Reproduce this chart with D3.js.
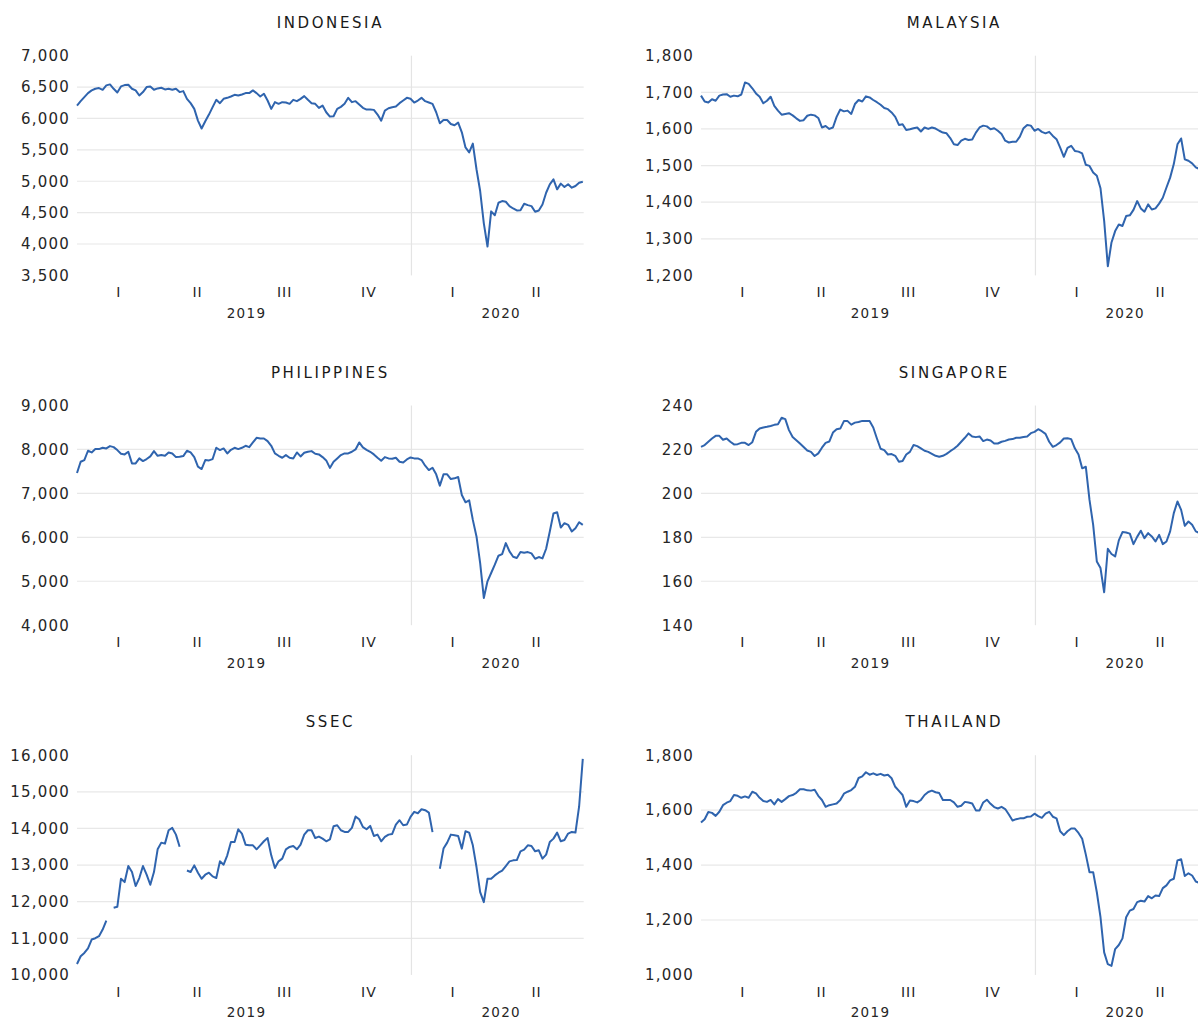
<!DOCTYPE html>
<html>
<head>
<meta charset="utf-8">
<script src="https://cdn.jsdelivr.net/npm/d3@7"></script>
<style>
  html, body { margin: 0; padding: 0; background: #fff; }
  svg { display: block; }
</style>
</head>
<body>
<svg id="chart" width="1198" height="1021"></svg>
<script>
// Daily index levels, sampled every 4 calendar days from 1 Jan 2019 to 7 Jul 2020.
const startDate = "2019-01-01";
const endDate = "2020-07-07";
const stepDays = 4;

const indonesia = [
  6206,6276,6340,6404,6447,6473,6484,6457,6527,6543,
  6473,6415,6511,6532,6537,6473,6447,6366,6420,6500,
  6511,6457,6479,6489,6463,6473,6457,6473,6420,6436,
  6313,6244,6153,5966,5840,5955,6062,6180,6297,6244,
  6313,6329,6350,6377,6366,6382,6404,6404,6447,6404,
  6350,6393,6286,6153,6260,6233,6260,6254,6233,6297,
  6276,6313,6356,6297,6244,6233,6169,6206,6099,6030,
  6035,6153,6185,6233,6329,6260,6276,6222,6169,6142,
  6142,6137,6062,5966,6126,6163,6180,6190,6244,6286,
  6329,6313,6254,6286,6329,6276,6254,6233,6099,5923,
  5976,5976,5912,5891,5934,5779,5538,5460,5600,5191,
  4844,4330,3960,4520,4459,4657,4684,4673,4604,4566,
  4534,4539,4641,4620,4604,4513,4534,4630,4817,4951,
  5031,4871,4962,4908,4951,4897,4924,4977,4993
];

const malaysia = [
  1691,1675,1672,1681,1677,1691,1694,1695,1688,1691,
  1689,1694,1727,1723,1711,1697,1688,1670,1677,1688,
  1663,1650,1639,1641,1643,1637,1629,1622,1624,1636,
  1639,1637,1630,1604,1608,1600,1604,1633,1653,1648,
  1650,1641,1668,1679,1675,1689,1686,1679,1673,1666,
  1657,1654,1645,1633,1611,1613,1597,1599,1602,1604,
  1593,1604,1600,1604,1601,1595,1590,1588,1575,1558,
  1556,1568,1573,1570,1571,1590,1604,1609,1607,1599,
  1602,1595,1586,1568,1563,1565,1565,1579,1602,1611,
  1609,1595,1600,1592,1588,1592,1581,1572,1549,1524,
  1548,1554,1540,1538,1533,1502,1499,1481,1472,1438,
  1349,1225,1290,1321,1339,1335,1362,1364,1379,1403,
  1383,1374,1394,1380,1383,1396,1412,1440,1467,1504,
  1558,1574,1517,1513,1506,1495,1490,1488,1485
];

const philippines = [
  7463,7720,7758,7970,7932,8008,8008,8038,8023,8076,
  8053,7985,7902,7887,7947,7682,7682,7796,7735,7781,
  7841,7962,7856,7871,7856,7932,7909,7826,7834,7849,
  7970,7932,7826,7607,7554,7758,7750,7781,8038,7985,
  8023,7909,7992,8038,8008,8038,8083,8053,8159,8265,
  8250,8250,8189,8083,7909,7856,7811,7871,7811,7796,
  7932,7841,7924,7947,7962,7902,7887,7826,7750,7580,
  7720,7796,7871,7909,7909,7947,8000,8159,8045,7992,
  7947,7887,7811,7743,7826,7796,7788,7811,7720,7705,
  7773,7818,7796,7796,7758,7630,7531,7584,7433,7176,
  7433,7433,7327,7342,7372,6964,6798,6843,6397,6019,
  5415,4620,4999,5188,5377,5581,5619,5868,5679,5558,
  5528,5664,5649,5664,5634,5513,5551,5520,5740,6133,
  6541,6571,6223,6322,6284,6133,6208,6344,6284
];

const singapore = [
  221.2,222.0,223.5,225.0,226.2,226.2,224.4,225.0,223.5,222.3,
  222.4,223.0,223.0,222.0,223.3,228.0,229.5,230.0,230.3,230.7,
  231.2,231.5,234.4,233.8,228.8,225.7,224.2,222.7,221.1,219.5,
  218.9,217.0,218.2,220.8,223.0,223.6,227.7,229.2,229.5,232.9,
  232.9,231.3,232.2,232.5,233.0,233.0,232.9,230.0,225.0,220.3,
  219.7,217.7,217.9,217.1,214.4,214.7,217.7,218.9,222.0,221.5,
  220.5,219.4,218.9,218.0,217.1,216.7,217.1,218.0,219.2,220.3,
  221.7,223.5,225.3,227.3,225.9,225.6,225.9,223.8,224.5,224.1,
  222.7,222.7,223.5,223.9,224.5,224.7,225.3,225.3,225.7,225.9,
  227.4,228.0,229.2,228.3,227.1,223.5,221.2,222.0,223.2,225.0,
  225.1,224.7,220.5,217.7,211.4,212.1,197.0,185.7,169.0,166.0,
  155.0,174.8,172.4,171.3,178.6,182.4,182.2,181.7,176.9,180.2,
  183.0,179.6,181.9,180.4,178.1,181.1,176.9,178.1,182.7,191.0,
  196.3,192.5,185.2,187.2,185.7,182.7,182.0,182.0,182.0
];

// null marks days with no trading (holiday closures)
const ssec = [
  10298,10508,10599,10727,10965,11001,11056,11238,11485,null,
  11832,11859,12626,12535,12973,12809,12425,12645,12973,12736,
  12462,12809,13430,13612,13585,13950,14014,13831,13500,null,
  12850,12809,12991,12791,12626,12736,12791,12690,12645,13101,
  13010,13265,13630,13630,13977,13859,13557,13539,13539,13430,
  13539,13649,13740,13265,12918,13101,13174,13430,13494,13521,
  13430,13557,13831,13950,13950,13740,13777,13722,13649,13700,
  14060,14087,13950,13904,13904,14014,14324,14251,14041,13977,
  14069,13795,13831,13649,13767,13831,13850,14105,14224,14087,
  14105,14315,14452,14416,14525,14498,14434,13900,null,12900,
  13450,13612,13831,13813,13795,13448,13923,13886,13539,12946,
  12261,11987,12626,12626,12717,12791,12845,12973,13101,13128,
  13137,13375,13420,13539,13521,13375,13403,13174,13284,13630,
  13722,13886,13649,13685,13859,13904,13886,14600,15900
];

const thailand = [
  1555,1567,1593,1590,1579,1594,1618,1627,1633,1655,
  1652,1645,1650,1645,1667,1661,1645,1633,1630,1637,
  1621,1640,1630,1640,1651,1655,1663,1676,1676,1672,
  1671,1674,1652,1637,1612,1618,1621,1624,1637,1660,
  1667,1673,1685,1717,1723,1738,1729,1734,1728,1732,
  1726,1729,1716,1685,1670,1655,1612,1635,1633,1628,
  1637,1655,1666,1671,1665,1662,1637,1637,1637,1628,
  1612,1616,1630,1628,1624,1599,1599,1628,1638,1623,
  1611,1606,1612,1604,1584,1562,1567,1570,1570,1576,
  1577,1587,1578,1572,1587,1594,1576,1570,1523,1509,
  1523,1533,1533,1517,1496,1438,1374,1374,1301,1210,
  1082,1039,1033,1094,1109,1133,1210,1234,1240,1265,
  1270,1267,1287,1279,1289,1287,1316,1326,1344,1350,
  1417,1421,1360,1370,1362,1340,1335,1330,1325
];

const panelTitles = ["INDONESIA", "MALAYSIA", "PHILIPPINES", "SINGAPORE", "SSEC", "THAILAND"];
const panelSeries = [indonesia, malaysia, philippines, singapore, ssec, thailand];
const panelDomains = [[3500, 7000], [1200, 1800], [4000, 9000], [140, 240], [10000, 16000], [1000, 1800]];
const panelTickSteps = [500, 100, 1000, 20, 1000, 200];

// quarter captions and the dates they sit under
const quarterLabels = ["I", "II", "III", "IV", "I", "II"];
const quarterLabelDates = ["2019-02-15", "2019-05-12", "2019-08-15", "2019-11-15", "2020-02-15", "2020-05-16"];
const yearLabels = ["2019", "2020"];
const yearLabelDates = ["2019-07-05", "2020-04-08"];
const yearBreak = "2020-01-01";

// ---- layout ----
const parse = d3.utcParse("%Y-%m-%d");
const dates = panelSeries[0].map((_, i) => d3.utcDay.offset(parse(startDate), i * stepDays));

const colLeft = [77, 701];
const rowTop = [55.7, 405.5, 755.2];
const plotW = 506.7;
const plotH = 219.7;

const FONT = "'DejaVu Sans', Verdana, sans-serif";
const lineColor = "#2f64ae";
const textColor = "#262626";

const svg = d3.select("#chart");

const x = d3.scaleUtc()
  .domain([parse(startDate), parse(endDate)])
  .range([0, plotW]);

const fmt = d3.format(",");

panelTitles.forEach((title, p) => {
  const col = p % 2, row = Math.floor(p / 2);
  const g = svg.append("g")
    .attr("transform", `translate(${colLeft[col]},${rowTop[row]})`);

  const [lo, hi] = panelDomains[p];
  const y = d3.scaleLinear().domain([lo, hi]).range([plotH, 0]);
  const ticks = d3.range(lo, hi + panelTickSteps[p] / 2, panelTickSteps[p]);

  // horizontal gridlines (inner values only)
  g.append("g")
    .selectAll("line")
    .data(ticks.filter(t => t > lo && t < hi))
    .join("line")
    .attr("x1", 0).attr("x2", plotW)
    .attr("y1", d => y(d)).attr("y2", d => y(d))
    .attr("stroke", "#e8e8e8")
    .attr("stroke-width", 1.2);

  // year separator
  g.append("line")
    .attr("x1", x(parse(yearBreak))).attr("x2", x(parse(yearBreak)))
    .attr("y1", 0).attr("y2", plotH)
    .attr("stroke", "#e4e4e4")
    .attr("stroke-width", 1.2);

  // y axis labels
  const yAxis = g.append("g")
    .call(d3.axisLeft(y).tickValues(ticks).tickSize(0).tickPadding(7).tickFormat(fmt));
  yAxis.select(".domain").remove();
  yAxis.selectAll("text")
    .attr("font-family", FONT)
    .attr("font-size", 15)
    .attr("letter-spacing", 1.2)
    .attr("fill", textColor);

  // quarter labels
  const xAxis = g.append("g")
    .attr("transform", `translate(0,${plotH})`)
    .call(d3.axisBottom(x).tickValues(quarterLabelDates.map(parse)).tickSize(0).tickPadding(12)
      .tickFormat((d, i) => quarterLabels[i]));
  xAxis.select(".domain").remove();
  xAxis.selectAll("text")
    .attr("font-family", FONT)
    .attr("font-size", 14)
    .attr("letter-spacing", 1)
    .attr("fill", textColor);

  // year labels
  g.append("g")
    .selectAll("text")
    .data(yearLabels)
    .join("text")
    .attr("x", (d, i) => x(parse(yearLabelDates[i])))
    .attr("y", plotH + 38.5)
    .attr("dy", "0.3em")
    .attr("text-anchor", "middle")
    .attr("font-family", FONT)
    .attr("font-size", 13.5)
    .attr("letter-spacing", 1.3)
    .attr("fill", textColor)
    .text(d => d);

  // panel title
  g.append("text")
    .attr("x", plotW / 2)
    .attr("y", -33)
    .attr("dy", "0.35em")
    .attr("text-anchor", "middle")
    .attr("font-family", FONT)
    .attr("font-size", 15)
    .attr("letter-spacing", 2.6)
    .attr("fill", "#1a1a1a")
    .text(title);

  // index line
  const line = d3.line()
    .defined(d => d.v != null)
    .x(d => x(d.date))
    .y(d => y(d.v));

  g.append("path")
    .datum(panelSeries[p].map((v, i) => ({ date: dates[i], v })))
    .attr("fill", "none")
    .attr("stroke", lineColor)
    .attr("stroke-width", 2)
    .attr("stroke-linejoin", "round")
    .attr("d", line);
});
</script>
</body>
</html>
